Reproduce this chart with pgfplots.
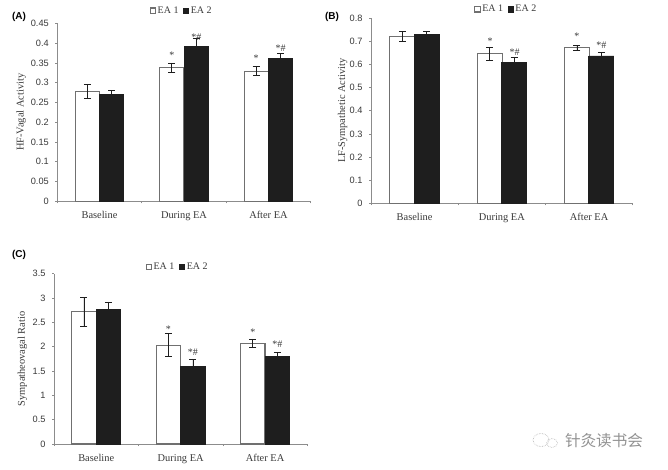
\documentclass[border=0pt]{standalone}
\usepackage{pgfplots}
\usepackage{pgfplotstable}
\usepackage{fontspec}
\setmainfont{Liberation Serif}
\setsansfont{Liberation Sans}
\newfontfamily\cjk{Noto Sans CJK SC}
\pgfplotsset{compat=1.18}
\definecolor{axisgray}{HTML}{8C8C8C}
\definecolor{barblack}{HTML}{1E1E1E}
\definecolor{barline}{HTML}{707070}
\definecolor{txt}{HTML}{3A3A3A}
\pgfplotstableread{
x v1 e1 v2 e2
0 0.277 0.018 0.269 0.011
1 0.338 0.012 0.391 0.022
2 0.329 0.011 0.360 0.014
}\tabA
\pgfplotstableread{
x v1 e1 v2 e2
0 0.722 0.020 0.730 0.012
1 0.648 0.028 0.608 0.022
2 0.673 0.010 0.637 0.014
}\tabB
\pgfplotstableread{
x v1 e1 v2 e2
0 2.72 0.30 2.77 0.15
1 2.03 0.235 1.60 0.15
2 2.07 0.09 1.80 0.09
}\tabC
\pgfplotsset{
  panel/.style={
    scale only axis, anchor=south west, ybar, bar shift=0pt,
    xmin=-0.5, xmax=2.5, ymin=0,
    axis lines=left, axis line style={axisgray, -, line width=0.7pt},
    xtick={0,1,2}, xticklabels={Baseline,During EA,After EA},
    major x tick style={draw=none},
    minor xtick={-0.5,0.5,1.5,2.5},
    minor tick length=2pt, major tick length=2pt, tick align=outside,
    every tick/.style={axisgray, line width=0.6pt},
    minor x tick style={axisgray, line width=0.6pt},
    xticklabel style={font=\fontsize{10.4}{11}\selectfont, text=txt, yshift=-5pt, text height=7pt, text depth=2pt},
    yticklabel style={font=\sffamily\fontsize{9.2}{10}\selectfont, text=txt, xshift=-3pt},
    ylabel style={font=\fontsize{10.4}{11}\selectfont, text=txt},
    /pgf/number format/assume math mode=true,
    /pgf/number format/fixed,
    clip=false,
    legend columns=2,
    legend cell align=left,
    legend image code/.code={\draw[##1] (0pt,-2.6pt) rectangle (5.4pt,2.8pt);},
    legend style={draw=none, fill=none, inner sep=0pt, font=\fontsize{10}{10}\selectfont,
      text=txt, /tikz/every even column/.append style={column sep=3pt},
      nodes={inner xsep=1.5pt, inner ysep=0pt}, anchor=center},
    error bars/y dir=both, error bars/y explicit,
    error bars/error mark options={rotate=90, mark size=3.5pt, line width=0.7pt, color=barblack},
    error bars/error bar style={line width=0.7pt, color=barblack},
  },
  s1/.style={fill=white, draw=barline, line width=1.1pt},
  s2/.style={fill=barblack, draw=barblack, line width=0.9pt},
}
\newcommand{\mk}[3]{\node[font=\fontsize{10}{10}\selectfont, text=txt, inner sep=0pt] at (axis cs:#1,#2) {#3};}
\begin{document}
\begin{tikzpicture}[x=1pt,y=1pt]
\path[use as bounding box, fill=white] (0,0) rectangle (668,469);

% Panel A
\begin{axis}[panel, at={(57.3pt,267.7pt)}, width=253.4pt, height=178pt,
  bar width=24.3pt, ymax=0.45, ytick={0,0.05,...,0.451},
  yticklabels={0,0.05,0.1,0.15,0.2,0.25,0.3,0.35,0.4,0.45},
  ylabel={HF-Vagal Activity}, ylabel style={at={(axis description cs:-0.143,0.5)}, anchor=center},
  legend style={at={(0.49,1.07)}}]
\addplot[s1] table[x expr=\thisrow{x}-0.145, y=v1, y error=e1] {\tabA};
\addplot[s2] table[x expr=\thisrow{x}+0.145, y=v2, y error=e2] {\tabA};
\legend{EA 1,EA 2}
\mk{0.855}{0.369}{*}
\mk{1.145}{0.416}{*\#}
\mk{1.855}{0.362}{*}
\mk{2.145}{0.388}{*\#}
\end{axis}

% Panel B
\begin{axis}[panel, at={(371pt,265.7pt)}, width=261.7pt, height=185pt,
  bar width=25pt, ymax=0.8, ytick={0,0.1,...,0.81},
  yticklabels={0,0.1,0.2,0.3,0.4,0.5,0.6,0.7,0.8},
  ylabel={LF-Sympathetic Activity}, ylabel style={at={(axis description cs:-0.108,0.5)}, anchor=center},
  legend style={at={(0.516,1.048)}}]
\addplot[s1] table[x expr=\thisrow{x}-0.14, y=v1, y error=e1] {\tabB};
\addplot[s2] table[x expr=\thisrow{x}+0.14, y=v2, y error=e2] {\tabB};
\legend{EA 1,EA 2}
\mk{0.865}{0.702}{*}
\mk{1.145}{0.655}{*\#}
\mk{1.86}{0.722}{*}
\mk{2.14}{0.685}{*\#}
\end{axis}

% Panel C
\begin{axis}[panel, at={(54pt,25pt)}, width=253.3pt, height=170.3pt,
  bar width=24.3pt, ymax=3.5, ytick={0,0.5,...,3.51},
  yticklabels={0,0.5,1,1.5,2,2.5,3,3.5},
  ylabel={Sympatheovagal Ratio}, ylabel style={at={(axis description cs:-0.125,0.5)}, anchor=center},
  legend style={at={(0.487,1.039)}}]
\addplot[s1] table[x expr=\thisrow{x}-0.145, y=v1, y error=e1] {\tabC};
\addplot[s2] table[x expr=\thisrow{x}+0.145, y=v2, y error=e2] {\tabC};
\legend{EA 1,EA 2}
\mk{0.855}{2.36}{*}
\mk{1.145}{1.88}{*\#}
\mk{1.855}{2.3}{*}
\mk{2.145}{2.05}{*\#}
\end{axis}

% Panel letters
\node[font=\sffamily\bfseries\fontsize{10}{10}\selectfont, inner sep=0pt] at (19,452) {(A)};
\node[font=\sffamily\bfseries\fontsize{10}{10}\selectfont, inner sep=0pt] at (332,452) {(B)};
\node[font=\sffamily\bfseries\fontsize{10}{10}\selectfont, inner sep=0pt] at (19,214) {(C)};

% Watermark
\draw[gray!60, densely dotted, line width=0.6pt] (541,29) ellipse (8pt and 6.5pt);
\draw[gray!60, densely dotted, line width=0.6pt] (552,26) ellipse (5.5pt and 4.5pt);
\node[font=\cjk\fontsize{15.6}{16}\selectfont, text=gray!85, inner sep=0pt] at (604,28) {针灸读书会};
\end{tikzpicture}
\end{document}
